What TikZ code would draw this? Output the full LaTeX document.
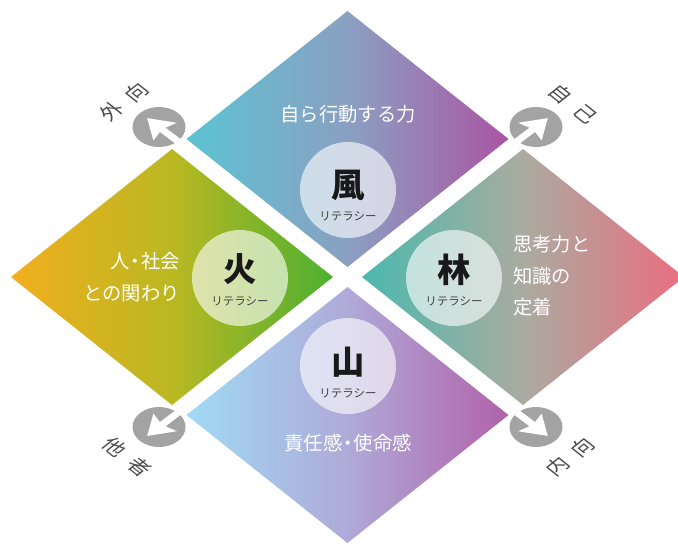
\documentclass[tikz,border=0pt]{standalone}
\usepackage{fontspec}
\setmainfont{Noto Sans CJK JP}
\definecolor{tL}{HTML}{5CC3D3}\definecolor{tM}{HTML}{8AA0C2}\definecolor{tR}{HTML}{AA55A2}
\definecolor{lL}{HTML}{F2AE1E}\definecolor{lM}{HTML}{BAB822}\definecolor{lR}{HTML}{4DB032}
\definecolor{rL}{HTML}{4BB9AE}\definecolor{rM}{HTML}{AAABA0}\definecolor{rR}{HTML}{EA6E80}
\definecolor{bL}{HTML}{A0DAF4}\definecolor{bM}{HTML}{AFAAD8}\definecolor{bR}{HTML}{B062A8}
\definecolor{arrgray}{HTML}{A3A3A3}
\tikzset{
  body/.style={text=white, font=\fontsize{14.5}{24}\selectfont, inner sep=0pt},
  disc/.style={circle, fill=white, fill opacity=0.62, minimum size=72pt, inner sep=0pt},
  bigchar/.style={font=\bfseries\fontsize{25}{25}\selectfont, text=black!90, inner sep=0pt},
  lit/.style={font=\fontsize{8.6}{9}\selectfont, text=black!75, inner sep=0pt},
  lbl/.style={font=\fontsize{13.5}{13.5}\selectfont, text=black!70, inner sep=0pt, transform shape},
  arrowhd/.style={fill=white},
}
\begin{document}
\begin{tikzpicture}[x=0.75pt,y=-0.75pt]
\useasboundingbox (0,0) rectangle (678,543);
\clip (0,0) rectangle (678,543);
% diamonds
\shade[left color=tL, right color=tR, middle color=tM] (186.5,139) -- (347.5,11) -- (508.5,139) -- (347.5,267) -- cycle;
\shade[left color=lL, right color=lR, middle color=lM] (11,277) -- (172,149) -- (333,277) -- (172,405) -- cycle;
\shade[left color=rL, right color=rR, middle color=rM] (362,277) -- (523,149) -- (684,277) -- (523,405) -- cycle;
\shade[left color=bL, right color=bR, middle color=bM] (186.5,415) -- (347.5,287) -- (508.5,415) -- (347.5,543) -- cycle;
% arrows
\foreach \cx/\cy/\ang in {159/127/135, 536/127/45, 159/427/225, 536/427/-45}{
  \begin{scope}[shift={(\cx,\cy)}, xscale=1.325, rotate=\ang]
    \fill[arrgray] (0,0) circle (20);
    \fill[arrowhd] (12.6,0) -- (-6.5,12.5) -- (-4,3) -- (-42,3) -- (-42,-3) -- (-4,-3) -- (-6.5,-12.5) -- cycle;
  \end{scope}
}
% corner labels
\begin{scope}[shift={(124,102)}, xscale=1.26, rotate=45]
  \node[lbl] (gaikou) at (0,0) {外\hspace{7pt}向};
\end{scope}
\begin{scope}[shift={(573,104)}, xscale=1.26, rotate=-45]
  \node[lbl] (jiko) at (0,0) {自\hspace{7pt}己};
\end{scope}
\begin{scope}[shift={(127,457)}, xscale=1.26, rotate=-45]
  \node[lbl] (tasha) at (0,0) {他\hspace{7pt}者};
\end{scope}
\begin{scope}[shift={(570,457)}, xscale=1.26, rotate=45]
  \node[lbl] (naikou) at (0,0) {内\hspace{7pt}向};
\end{scope}
% circles
\node[disc] (cfu) at (348,190) {};
\node[disc] (cka) at (240,278) {};
\node[disc] (crin) at (454,278) {};
\node[disc] (czan) at (348,366) {};
\node[bigchar] (fu) at (348,185) {風};
\node[lit] (fulit) at (348,216) {リテラシー};
\node[bigchar] (ka) at (240,269) {火};
\node[lit] (kalit) at (240,301) {リテラシー};
\node[bigchar] (rin) at (454,270) {林};
\node[lit] (rinlit) at (454,301) {リテラシー};
\node[bigchar] (zan) at (348,362) {山};
\node[lit] (zanlit) at (348,393) {リテラシー};
% texts
\node[body] (tfu) at (348,114) {自ら行動する力};
\node[body, anchor=east, align=right] (tka) at (180,277) {人\kern-3pt・\kern-3pt社会\\との関わり};
\node[body, anchor=west, align=left, font=\fontsize{14.5}{23.6}\selectfont] (trin) at (513,276) {思考力と\\知識の\\定着};
\node[body] (tzan) at (348,443) {責任感\kern-3pt・\kern-3pt使命感};
\end{tikzpicture}
\end{document}
